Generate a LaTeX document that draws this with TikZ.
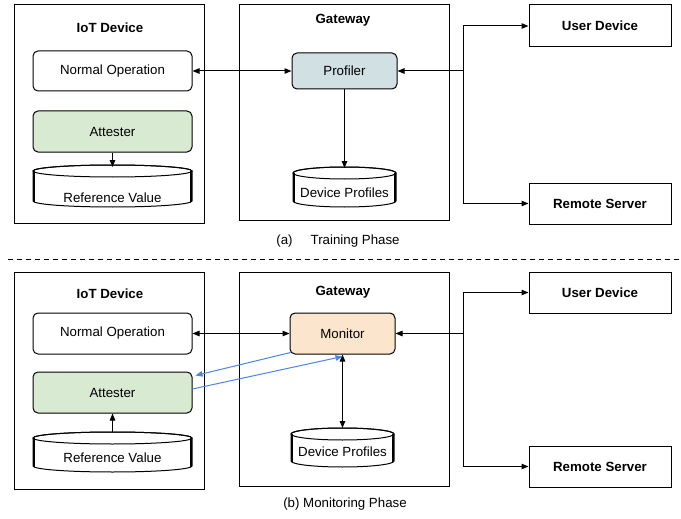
\documentclass[tikz,border=0pt]{standalone}
\usepackage{fontspec}
\setmainfont{Liberation Sans}
\usetikzlibrary{arrows.meta,calc}
\definecolor{attg}{HTML}{D9EAD3}
\definecolor{profb}{HTML}{D0E0E3}
\definecolor{monor}{HTML}{FCE5CD}
\definecolor{bluel}{HTML}{4A86E8}
\newcommand\cylshape[4]{%
  \filldraw[fill=white,line width=1pt] ({#1-#4},{-#2-6}) -- ({#1-#4},{-#3+6})
     arc[start angle=180,end angle=360,x radius=#4pt,y radius=6pt]
     -- ({#1+#4},{-#2-6})
     arc[start angle=0,end angle=180,x radius=#4pt,y radius=6pt] -- cycle;
  \draw[line width=1pt] (#1,{-#2-6}) ellipse[x radius=#4pt,y radius=6pt];
  \draw[line width=2.4pt] ({#1-#4+1},{-#2-6}) -- ({#1-#4+1},{-#3+5});
  \draw[line width=2.4pt] ({#1+#4-1},{-#2-6}) -- ({#1+#4-1},{-#3+5});
}
\begin{document}
\begin{tikzpicture}[x=1pt,y=1pt,
  every node/.style={font=\fontsize{13.3}{15}\selectfont},
  container/.style={draw,line width=1pt,inner sep=0pt},
  rbox/.style={draw,line width=1pt,rounded corners=5pt,inner sep=0pt},
  sbox/.style={draw,line width=1pt,inner sep=0pt,font=\fontsize{13.3}{15}\selectfont\bfseries},
  ttl/.style={font=\fontsize{13.3}{15}\selectfont\bfseries},
  arr/.style={line width=1pt,-{Triangle[length=7pt,width=5.5pt]}},
  darr/.style={line width=1pt,{Triangle[length=7pt,width=5.5pt]}-{Triangle[length=7pt,width=5.5pt]}},
  barr/.style={line width=1pt,draw=bluel,-{Triangle[length=7pt,width=5.5pt]}}]
\useasboundingbox (0,0) rectangle (681,-519);

%% ---------------- (a) Training phase ----------------
\node[container,minimum width=190pt,minimum height=218pt] (iot1) at (109,-114) {};
\node[ttl] (iot1t) at (110,-28) {IoT Device};
\node[rbox,minimum width=159pt,minimum height=40pt] (no1) at (112.5,-71) {Normal Operation};
\node[rbox,fill=attg,minimum width=159pt,minimum height=41pt] (at1) at (112.5,-131.5) {Attester};
\cylshape{112.5}{165}{207}{79.5}
\node (rv1) at (112.5,-198) {Reference Value};
\coordinate (rv1top) at (112.5,-167);

\node[container,minimum width=210pt,minimum height=215pt] (gw1) at (344,-112.5) {};
\node[ttl] (gw1t) at (343,-20) {Gateway};
\node[rbox,fill=profb,minimum width=105pt,minimum height=36pt] (pr1) at (344.5,-71) {Profiler};
\cylshape{344.5}{167}{207}{51.5}
\node (dp1) at (344.5,-193) {Device Profiles};
\coordinate (dp1top) at (344.5,-168);

\node[sbox,minimum width=142pt,minimum height=42pt] (ud1) at (600,-26) {User Device};
\node[sbox,minimum width=142pt,minimum height=41pt] (rs1) at (600,-203.5) {Remote Server};
\coordinate (tr1) at (463,-71);

\draw[arr] (at1.south) -- (rv1top);
\draw[darr] (no1.east) -- (pr1.west);
\draw[arr] (pr1.south) -- (dp1top);
\draw[arr] (tr1) -- (pr1.east);
\draw[arr] (tr1) |- (ud1.west);
\draw[arr] (tr1) |- (rs1.west);

\node (capa) at (338,-241) {(a)\hspace{18pt}Training Phase};

%% separator
\coordinate (sepl) at (8,-259);
\coordinate (sepr) at (681,-259);
\draw[line width=1pt,dash pattern=on 5pt off 4pt] (sepl) -- (sepr);

%% ---------------- (b) Monitoring phase ----------------
\node[container,minimum width=190pt,minimum height=217pt] (iot2) at (109,-380.5) {};
\node[ttl] (iot2t) at (110,-294) {IoT Device};
\node[rbox,minimum width=159pt,minimum height=41pt] (no2) at (112.5,-333.5) {Normal Operation};
\node[rbox,fill=attg,minimum width=159pt,minimum height=41pt] (at2) at (112.5,-392.5) {Attester};
\cylshape{112.5}{432}{472}{79.5}
\node (rv2) at (112.5,-458) {Reference Value};
\coordinate (rv2top) at (112.5,-432);

\node[container,minimum width=210pt,minimum height=214pt] (gw2) at (344,-379) {};
\node[ttl] (gw2t) at (343,-292) {Gateway};
\node[rbox,fill=monor,minimum width=105pt,minimum height=41pt] (mo2) at (342.5,-333.5) {Monitor};
\cylshape{342.5}{428}{467}{51.5}
\node (dp2) at (342.5,-452) {Device Profiles};
\coordinate (dp2top) at (342.5,-428);

\node[sbox,minimum width=142pt,minimum height=41pt] (ud2) at (600,-292.5) {User Device};
\node[sbox,minimum width=142pt,minimum height=41pt] (rs2) at (600,-466.5) {Remote Server};
\coordinate (tr2) at (463,-333.5);

\draw[arr] (rv2top) -- (at2.south);
\draw[darr] (no2.east) -- (mo2.west);
\draw[darr] (mo2.south) -- (dp2top);
\draw[arr] (tr2) -- (mo2.east);
\draw[arr] (tr2) |- (ud2.west);
\draw[arr] (tr2) |- (rs2.west);
\draw[barr] ([shift={(1pt,2pt)}]mo2.south west) -- ([shift={(3pt,-4pt)}]at2.north east);
\draw[barr] ([yshift=3.5pt]at2.east) -- ([yshift=-2pt]mo2.south);

\node (capb) at (345,-504) {(b) Monitoring Phase};
\end{tikzpicture}
\end{document}
